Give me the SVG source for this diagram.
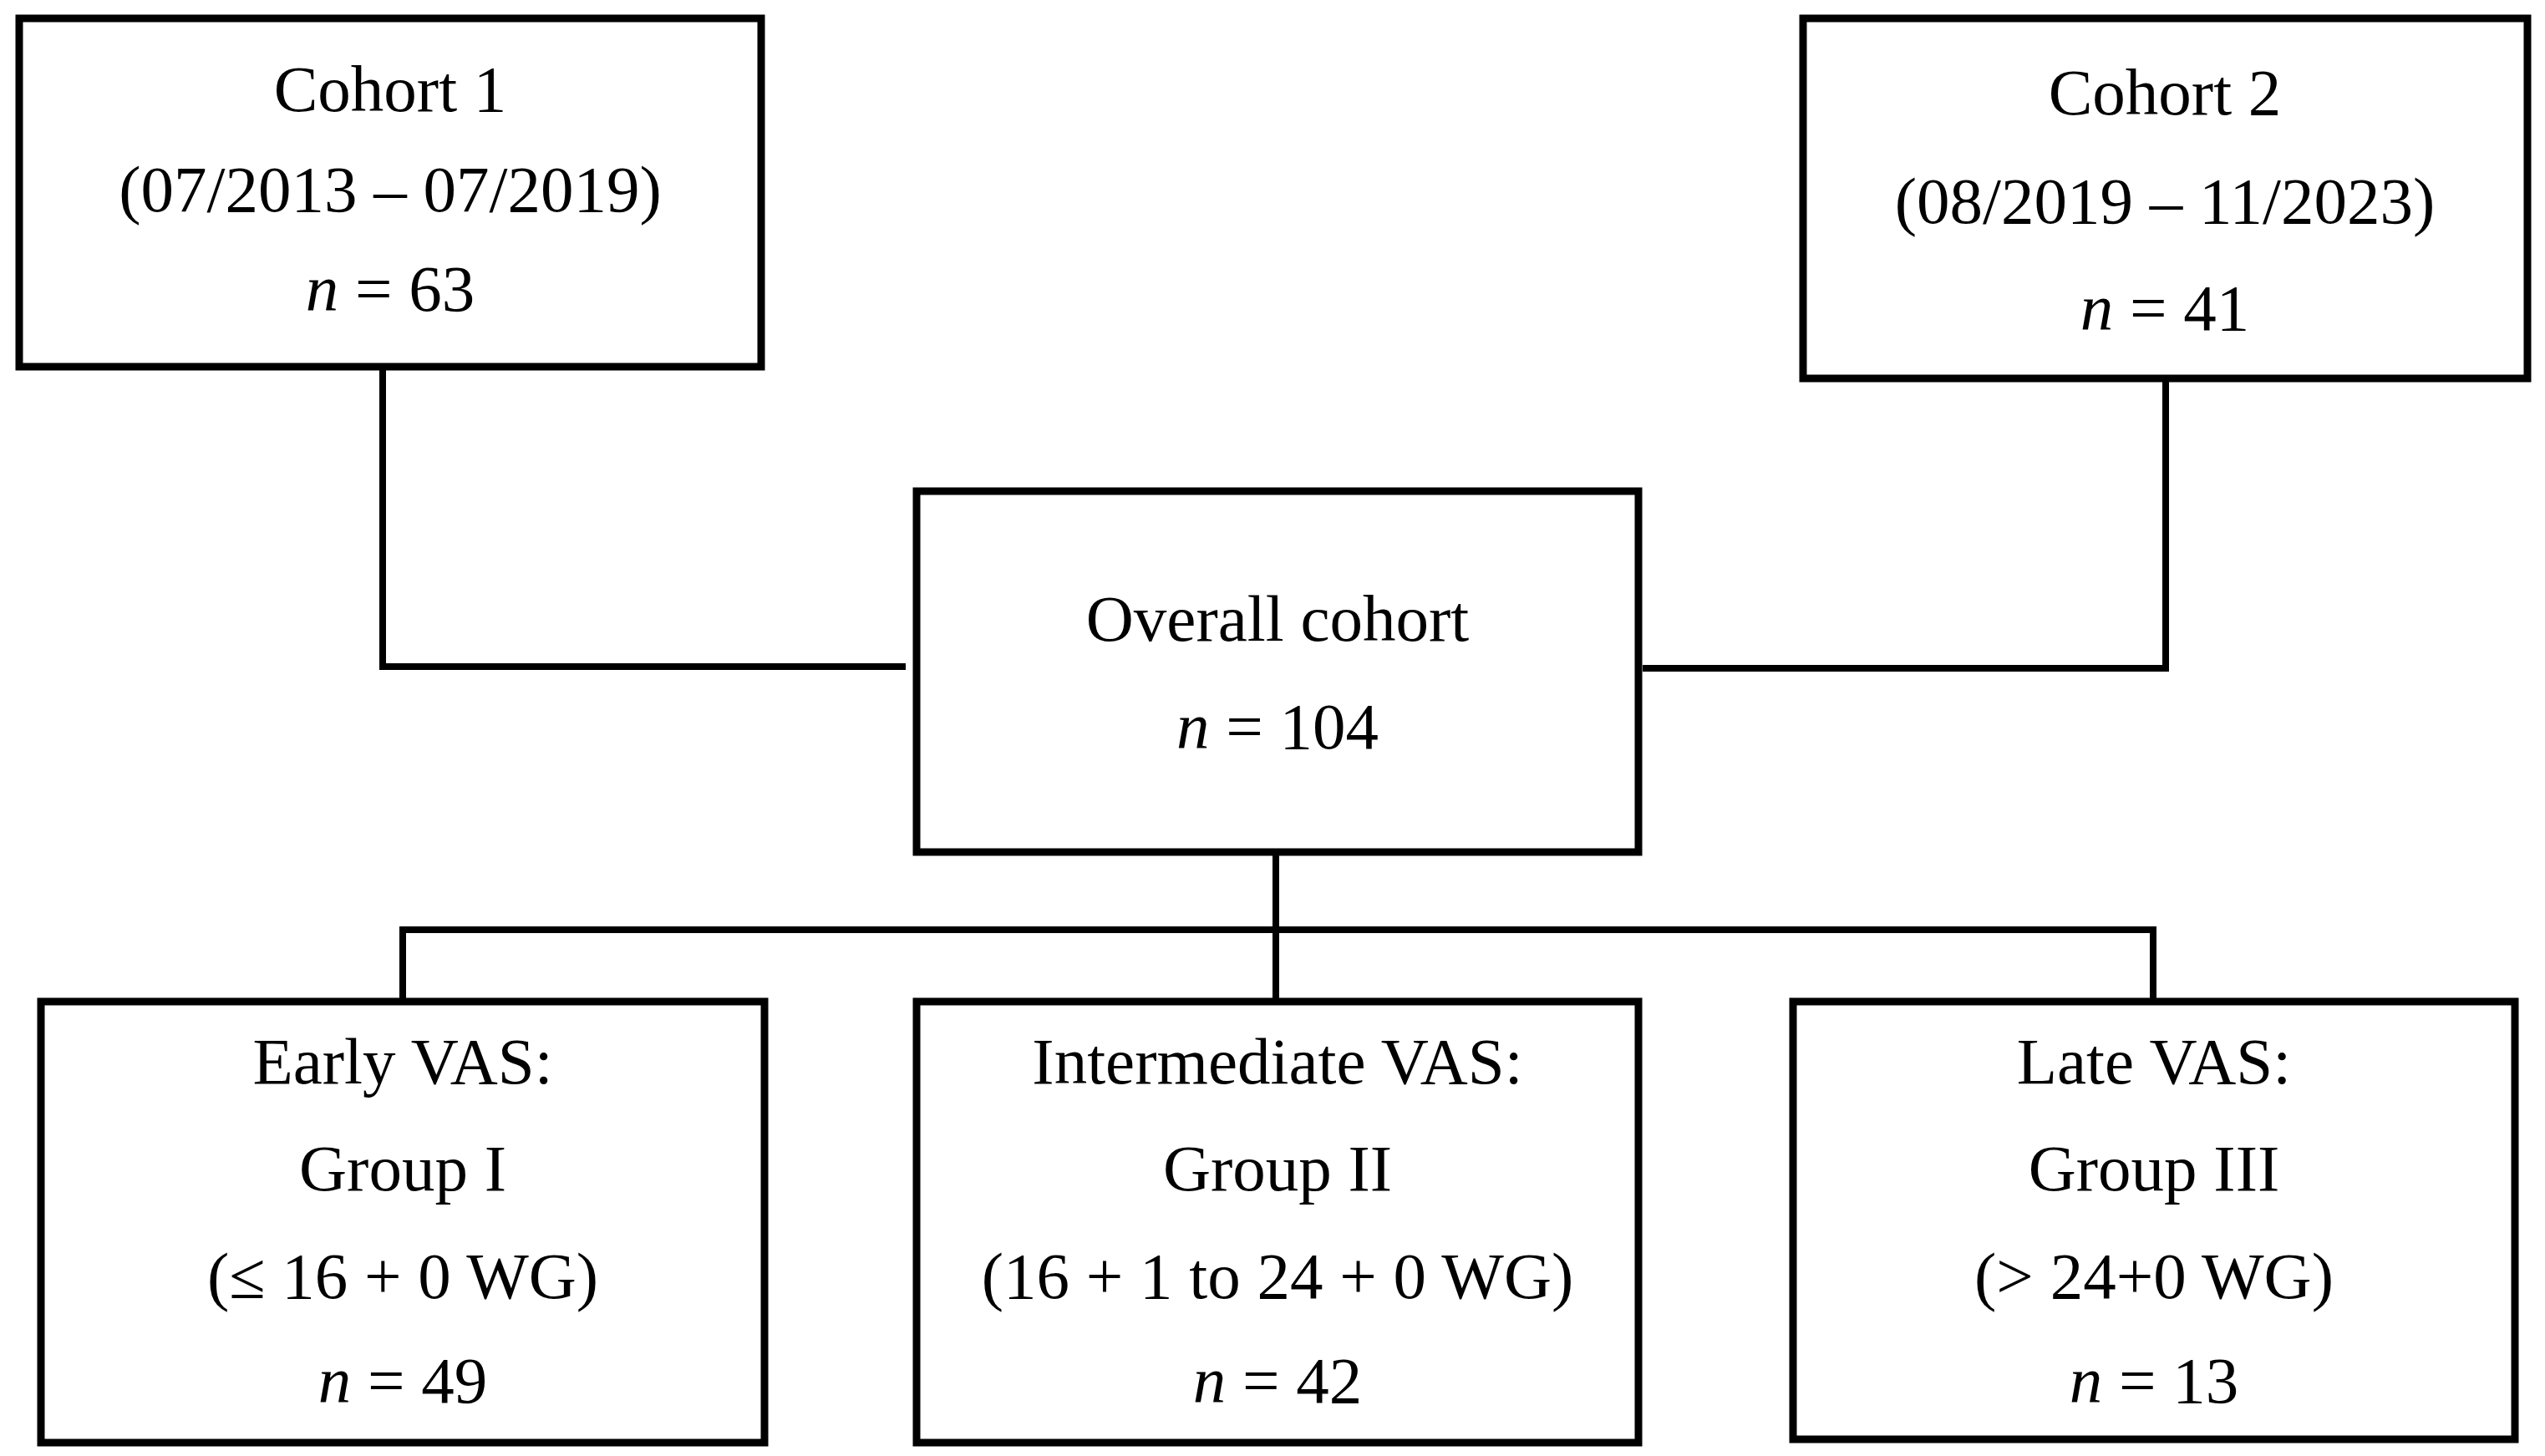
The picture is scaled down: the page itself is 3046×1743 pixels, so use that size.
<svg xmlns="http://www.w3.org/2000/svg" width="3046" height="1743" viewBox="0 0 3046 1743">
<style>
.box{fill:#fff;stroke:#000;stroke-width:9}
.ln{fill:none;stroke:#000;stroke-width:8;stroke-linejoin:miter;stroke-linecap:butt}
text{font-family:"Liberation Serif","Times New Roman",serif;font-size:79px;fill:#000;text-anchor:middle}
.i{font-style:italic}
</style>
<rect width="3046" height="1743" fill="#fff"/>
<g id="connectors">
<polyline class="ln" points="458,439 458,798 1084,798"/>
<polyline class="ln" points="1966,800 2592,800 2592,455"/>
<line class="ln" x1="1527" y1="1020" x2="1527" y2="1199"/>
<polyline class="ln" points="482,1199 482,1113 2577,1113 2577,1199"/>
</g>
<g id="cohort1">
<rect class="box" x="23" y="22" width="888" height="417"/>
<text x="467" y="133">Cohort 1</text>
<text x="467" y="253">(07/2013 – 07/2019)</text>
<text x="467" y="372"><tspan class="i">n</tspan> = 63</text>
</g>
<g id="cohort2">
<rect class="box" x="2158" y="22" width="867" height="431"/>
<text x="2591" y="137">Cohort 2</text>
<text x="2591" y="267">(08/2019 – 11/2023)</text>
<text x="2591" y="395"><tspan class="i">n</tspan> = 41</text>
</g>
<g id="overall">
<rect class="box" x="1097" y="588" width="864" height="432"/>
<text x="1529" y="767">Overall cohort</text>
<text x="1529" y="896"><tspan class="i">n</tspan> = 104</text>
</g>
<g id="group1">
<rect class="box" x="49" y="1199" width="866" height="528"/>
<text x="482" y="1297">Early VAS:</text>
<text x="482" y="1425">Group I</text>
<text x="482" y="1554">(≤ 16 + 0 WG)</text>
<text x="482" y="1679"><tspan class="i">n</tspan> = 49</text>
</g>
<g id="group2">
<rect class="box" x="1097" y="1199" width="864" height="528"/>
<text x="1529" y="1297">Intermediate VAS:</text>
<text x="1529" y="1425">Group II</text>
<text x="1529" y="1554">(16 + 1 to 24 + 0 WG)</text>
<text x="1529" y="1679"><tspan class="i">n</tspan> = 42</text>
</g>
<g id="group3">
<rect class="box" x="2146" y="1199" width="864" height="524"/>
<text x="2578" y="1297">Late VAS:</text>
<text x="2578" y="1425">Group III</text>
<text x="2578" y="1554">(&gt; 24+0 WG)</text>
<text x="2578" y="1679"><tspan class="i">n</tspan> = 13</text>
</g>
</svg>
